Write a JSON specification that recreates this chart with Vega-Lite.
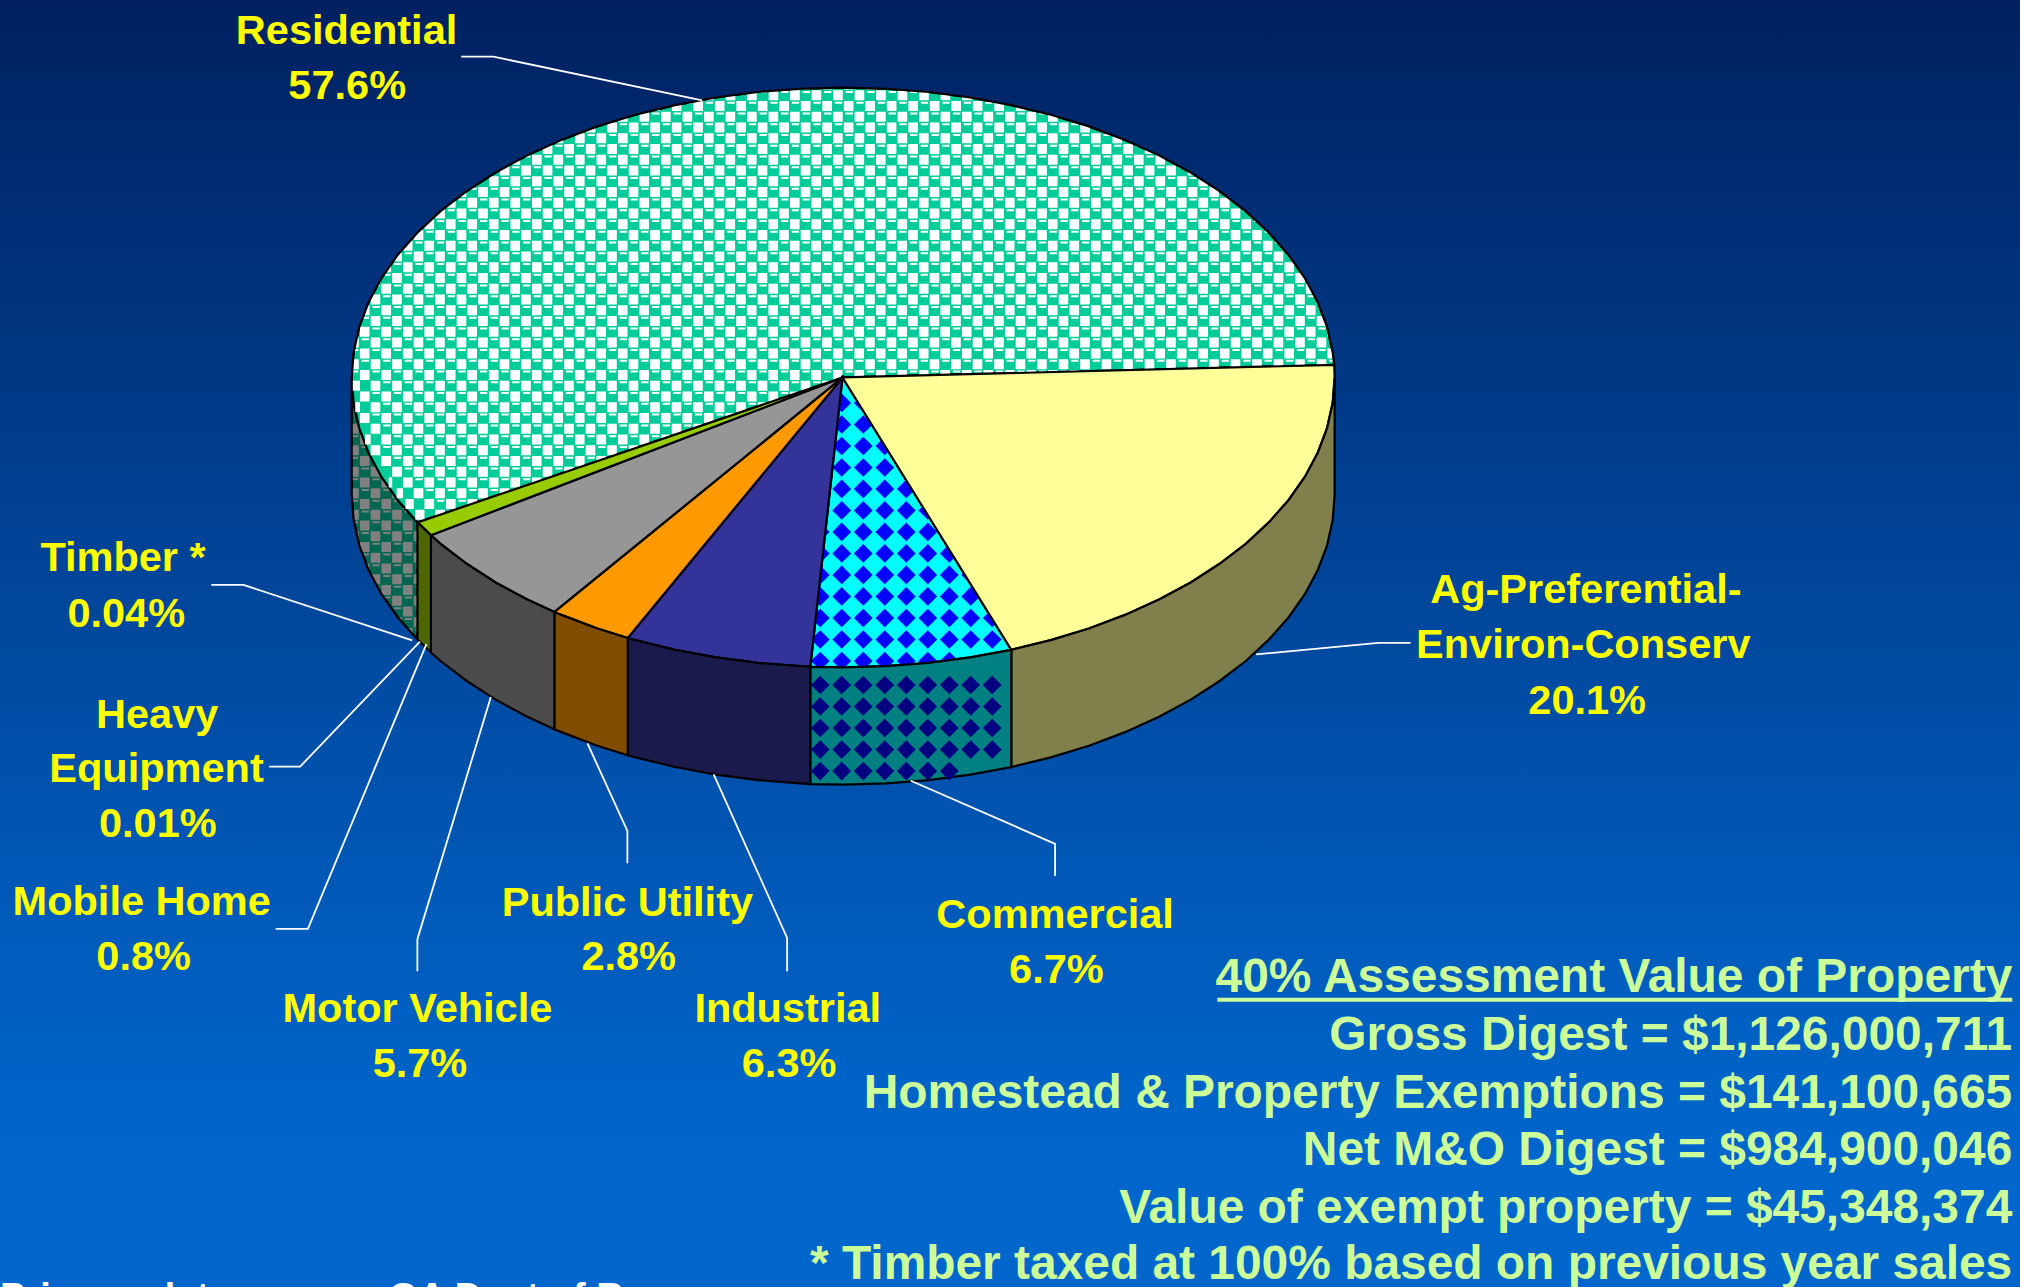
{"$schema":"https://vega.github.io/schema/vega-lite/v6.json","width":2020,"height":1287,"padding":0,"autosize":{"type":"none"},"background":"#0066cc","config":{"view":{"stroke":null}},
"datasets":{
"bg":[{"x":0,"x2":1568,"y":0,"y2":999}],
"polys":[
{"g":1,"seg":"ResSide","o":1,"x":324.1,"y":405.5},{"g":1,"seg":"ResSide","o":2,"x":308.7,"y":388.1},{"g":1,"seg":"ResSide","o":3,"x":296,"y":370},{"g":1,"seg":"ResSide","o":4,"x":286,"y":351.2},{"g":1,"seg":"ResSide","o":5,"x":278.8,"y":332.1},{"g":1,"seg":"ResSide","o":6,"x":274.5,"y":312.6},{"g":1,"seg":"ResSide","o":7,"x":273,"y":293},{"g":1,"seg":"ResSide","o":8,"x":273,"y":384},{"g":1,"seg":"ResSide","o":9,"x":274.5,"y":403.6},{"g":1,"seg":"ResSide","o":10,"x":278.8,"y":423.1},{"g":1,"seg":"ResSide","o":11,"x":286,"y":442.2},{"g":1,"seg":"ResSide","o":12,"x":296,"y":461},{"g":1,"seg":"ResSide","o":13,"x":308.7,"y":479.1},{"g":1,"seg":"ResSide","o":14,"x":324.1,"y":496.5},
{"g":2,"seg":"Residential","o":1,"x":654,"y":293},{"g":2,"seg":"Residential","o":2,"x":324.1,"y":405.5},{"g":2,"seg":"Residential","o":3,"x":308.7,"y":388.1},{"g":2,"seg":"Residential","o":4,"x":296,"y":370},{"g":2,"seg":"Residential","o":5,"x":286,"y":351.2},{"g":2,"seg":"Residential","o":6,"x":278.8,"y":332.1},{"g":2,"seg":"Residential","o":7,"x":274.5,"y":312.6},{"g":2,"seg":"Residential","o":8,"x":273,"y":293},{"g":2,"seg":"Residential","o":9,"x":274.5,"y":273.4},{"g":2,"seg":"Residential","o":10,"x":278.8,"y":253.9},{"g":2,"seg":"Residential","o":11,"x":286,"y":234.8},{"g":2,"seg":"Residential","o":12,"x":296,"y":216},{"g":2,"seg":"Residential","o":13,"x":308.7,"y":197.9},{"g":2,"seg":"Residential","o":14,"x":324.1,"y":180.5},{"g":2,"seg":"Residential","o":15,"x":342,"y":163.9},{"g":2,"seg":"Residential","o":16,"x":362.3,"y":148.4},{"g":2,"seg":"Residential","o":17,"x":384.7,"y":133.9},{"g":2,"seg":"Residential","o":18,"x":409.3,"y":120.6},{"g":2,"seg":"Residential","o":19,"x":435.7,"y":108.7},{"g":2,"seg":"Residential","o":20,"x":463.7,"y":98.1},{"g":2,"seg":"Residential","o":21,"x":493.3,"y":89.1},{"g":2,"seg":"Residential","o":22,"x":524,"y":81.6},{"g":2,"seg":"Residential","o":23,"x":555.8,"y":75.7},{"g":2,"seg":"Residential","o":24,"x":588.3,"y":71.4},{"g":2,"seg":"Residential","o":25,"x":621.2,"y":68.9},{"g":2,"seg":"Residential","o":26,"x":654.5,"y":68},{"g":2,"seg":"Residential","o":27,"x":687.8,"y":68.9},{"g":2,"seg":"Residential","o":28,"x":720.7,"y":71.4},{"g":2,"seg":"Residential","o":29,"x":753.2,"y":75.7},{"g":2,"seg":"Residential","o":30,"x":785,"y":81.6},{"g":2,"seg":"Residential","o":31,"x":815.7,"y":89.1},{"g":2,"seg":"Residential","o":32,"x":845.3,"y":98.1},{"g":2,"seg":"Residential","o":33,"x":873.3,"y":108.7},{"g":2,"seg":"Residential","o":34,"x":899.7,"y":120.6},{"g":2,"seg":"Residential","o":35,"x":924.3,"y":133.9},{"g":2,"seg":"Residential","o":36,"x":946.7,"y":148.4},{"g":2,"seg":"Residential","o":37,"x":967,"y":163.9},{"g":2,"seg":"Residential","o":38,"x":984.9,"y":180.5},{"g":2,"seg":"Residential","o":39,"x":1000.3,"y":197.9},{"g":2,"seg":"Residential","o":40,"x":1013,"y":216},{"g":2,"seg":"Residential","o":41,"x":1023,"y":234.8},{"g":2,"seg":"Residential","o":42,"x":1030.2,"y":253.9},{"g":2,"seg":"Residential","o":43,"x":1034.5,"y":273.4},{"g":2,"seg":"Residential","o":44,"x":1035.7,"y":283.2},
{"g":3,"seg":"Commercial","o":1,"x":654,"y":293},{"g":3,"seg":"Commercial","o":2,"x":785,"y":504.4},{"g":3,"seg":"Commercial","o":3,"x":753.2,"y":510.3},{"g":3,"seg":"Commercial","o":4,"x":720.7,"y":514.6},{"g":3,"seg":"Commercial","o":5,"x":687.8,"y":517.1},{"g":3,"seg":"Commercial","o":6,"x":654.5,"y":518},{"g":3,"seg":"Commercial","o":7,"x":629,"y":517.6},
{"g":4,"seg":"Ag","o":1,"x":654,"y":293},{"g":4,"seg":"Ag","o":2,"x":1035.7,"y":283.2},{"g":4,"seg":"Ag","o":3,"x":1036,"y":293},{"g":4,"seg":"Ag","o":4,"x":1034.5,"y":312.6},{"g":4,"seg":"Ag","o":5,"x":1030.2,"y":332.1},{"g":4,"seg":"Ag","o":6,"x":1023,"y":351.2},{"g":4,"seg":"Ag","o":7,"x":1013,"y":370},{"g":4,"seg":"Ag","o":8,"x":1000.3,"y":388.1},{"g":4,"seg":"Ag","o":9,"x":984.9,"y":405.5},{"g":4,"seg":"Ag","o":10,"x":967,"y":422.1},{"g":4,"seg":"Ag","o":11,"x":946.7,"y":437.6},{"g":4,"seg":"Ag","o":12,"x":924.3,"y":452.1},{"g":4,"seg":"Ag","o":13,"x":899.7,"y":465.4},{"g":4,"seg":"Ag","o":14,"x":873.3,"y":477.3},{"g":4,"seg":"Ag","o":15,"x":845.3,"y":487.9},{"g":4,"seg":"Ag","o":16,"x":815.7,"y":496.9},{"g":4,"seg":"Ag","o":17,"x":785,"y":504.4},
{"g":4,"seg":"Industrial","o":1,"x":654,"y":293},{"g":4,"seg":"Industrial","o":2,"x":629,"y":517.6},{"g":4,"seg":"Industrial","o":3,"x":621.2,"y":517.1},{"g":4,"seg":"Industrial","o":4,"x":588.3,"y":514.6},{"g":4,"seg":"Industrial","o":5,"x":555.8,"y":510.3},{"g":4,"seg":"Industrial","o":6,"x":524,"y":504.4},{"g":4,"seg":"Industrial","o":7,"x":493.3,"y":496.9},{"g":4,"seg":"Industrial","o":8,"x":487.3,"y":495.2},
{"g":4,"seg":"Utility","o":1,"x":654,"y":293},{"g":4,"seg":"Utility","o":2,"x":487.3,"y":495.2},{"g":4,"seg":"Utility","o":3,"x":463.7,"y":487.9},{"g":4,"seg":"Utility","o":4,"x":435.7,"y":477.3},{"g":4,"seg":"Utility","o":5,"x":430.3,"y":475},
{"g":4,"seg":"Motor","o":1,"x":654,"y":293},{"g":4,"seg":"Motor","o":2,"x":430.3,"y":475},{"g":4,"seg":"Motor","o":3,"x":409.3,"y":465.4},{"g":4,"seg":"Motor","o":4,"x":384.7,"y":452.1},{"g":4,"seg":"Motor","o":5,"x":362.3,"y":437.6},{"g":4,"seg":"Motor","o":6,"x":342,"y":422.1},{"g":4,"seg":"Motor","o":7,"x":334.5,"y":415.5},
{"g":4,"seg":"Mobile","o":1,"x":654,"y":293},{"g":4,"seg":"Mobile","o":2,"x":334.5,"y":415.5},{"g":4,"seg":"Mobile","o":3,"x":324.1,"y":405.5},
{"g":5,"seg":"AgSide","o":1,"x":785,"y":504.4},{"g":5,"seg":"AgSide","o":2,"x":815.7,"y":496.9},{"g":5,"seg":"AgSide","o":3,"x":845.3,"y":487.9},{"g":5,"seg":"AgSide","o":4,"x":873.3,"y":477.3},{"g":5,"seg":"AgSide","o":5,"x":899.7,"y":465.4},{"g":5,"seg":"AgSide","o":6,"x":924.3,"y":452.1},{"g":5,"seg":"AgSide","o":7,"x":946.7,"y":437.6},{"g":5,"seg":"AgSide","o":8,"x":967,"y":422.1},{"g":5,"seg":"AgSide","o":9,"x":984.9,"y":405.5},{"g":5,"seg":"AgSide","o":10,"x":1000.3,"y":388.1},{"g":5,"seg":"AgSide","o":11,"x":1013,"y":370},{"g":5,"seg":"AgSide","o":12,"x":1023,"y":351.2},{"g":5,"seg":"AgSide","o":13,"x":1030.2,"y":332.1},{"g":5,"seg":"AgSide","o":14,"x":1034.5,"y":312.6},{"g":5,"seg":"AgSide","o":15,"x":1036,"y":293},{"g":5,"seg":"AgSide","o":16,"x":1036,"y":384},{"g":5,"seg":"AgSide","o":17,"x":1034.5,"y":403.6},{"g":5,"seg":"AgSide","o":18,"x":1030.2,"y":423.1},{"g":5,"seg":"AgSide","o":19,"x":1023,"y":442.2},{"g":5,"seg":"AgSide","o":20,"x":1013,"y":461},{"g":5,"seg":"AgSide","o":21,"x":1000.3,"y":479.1},{"g":5,"seg":"AgSide","o":22,"x":984.9,"y":496.5},{"g":5,"seg":"AgSide","o":23,"x":967,"y":513.1},{"g":5,"seg":"AgSide","o":24,"x":946.7,"y":528.6},{"g":5,"seg":"AgSide","o":25,"x":924.3,"y":543.1},{"g":5,"seg":"AgSide","o":26,"x":899.7,"y":556.4},{"g":5,"seg":"AgSide","o":27,"x":873.3,"y":568.3},{"g":5,"seg":"AgSide","o":28,"x":845.3,"y":578.9},{"g":5,"seg":"AgSide","o":29,"x":815.7,"y":587.9},{"g":5,"seg":"AgSide","o":30,"x":785,"y":595.4},
{"g":5,"seg":"CommercialSide","o":1,"x":629,"y":517.6},{"g":5,"seg":"CommercialSide","o":2,"x":654.5,"y":518},{"g":5,"seg":"CommercialSide","o":3,"x":687.8,"y":517.1},{"g":5,"seg":"CommercialSide","o":4,"x":720.7,"y":514.6},{"g":5,"seg":"CommercialSide","o":5,"x":753.2,"y":510.3},{"g":5,"seg":"CommercialSide","o":6,"x":785,"y":504.4},{"g":5,"seg":"CommercialSide","o":7,"x":785,"y":595.4},{"g":5,"seg":"CommercialSide","o":8,"x":753.2,"y":601.3},{"g":5,"seg":"CommercialSide","o":9,"x":720.7,"y":605.6},{"g":5,"seg":"CommercialSide","o":10,"x":687.8,"y":608.1},{"g":5,"seg":"CommercialSide","o":11,"x":654.5,"y":609},{"g":5,"seg":"CommercialSide","o":12,"x":629,"y":608.6},
{"g":5,"seg":"IndustrialSide","o":1,"x":487.3,"y":495.2},{"g":5,"seg":"IndustrialSide","o":2,"x":493.3,"y":496.9},{"g":5,"seg":"IndustrialSide","o":3,"x":524,"y":504.4},{"g":5,"seg":"IndustrialSide","o":4,"x":555.8,"y":510.3},{"g":5,"seg":"IndustrialSide","o":5,"x":588.3,"y":514.6},{"g":5,"seg":"IndustrialSide","o":6,"x":621.2,"y":517.1},{"g":5,"seg":"IndustrialSide","o":7,"x":629,"y":517.6},{"g":5,"seg":"IndustrialSide","o":8,"x":629,"y":608.6},{"g":5,"seg":"IndustrialSide","o":9,"x":621.2,"y":608.1},{"g":5,"seg":"IndustrialSide","o":10,"x":588.3,"y":605.6},{"g":5,"seg":"IndustrialSide","o":11,"x":555.8,"y":601.3},{"g":5,"seg":"IndustrialSide","o":12,"x":524,"y":595.4},{"g":5,"seg":"IndustrialSide","o":13,"x":493.3,"y":587.9},{"g":5,"seg":"IndustrialSide","o":14,"x":487.3,"y":586.2},
{"g":5,"seg":"UtilitySide","o":1,"x":430.3,"y":475},{"g":5,"seg":"UtilitySide","o":2,"x":435.7,"y":477.3},{"g":5,"seg":"UtilitySide","o":3,"x":463.7,"y":487.9},{"g":5,"seg":"UtilitySide","o":4,"x":487.3,"y":495.2},{"g":5,"seg":"UtilitySide","o":5,"x":487.3,"y":586.2},{"g":5,"seg":"UtilitySide","o":6,"x":463.7,"y":578.9},{"g":5,"seg":"UtilitySide","o":7,"x":435.7,"y":568.3},{"g":5,"seg":"UtilitySide","o":8,"x":430.3,"y":566},
{"g":5,"seg":"MotorSide","o":1,"x":334.5,"y":415.5},{"g":5,"seg":"MotorSide","o":2,"x":342,"y":422.1},{"g":5,"seg":"MotorSide","o":3,"x":362.3,"y":437.6},{"g":5,"seg":"MotorSide","o":4,"x":384.7,"y":452.1},{"g":5,"seg":"MotorSide","o":5,"x":409.3,"y":465.4},{"g":5,"seg":"MotorSide","o":6,"x":430.3,"y":475},{"g":5,"seg":"MotorSide","o":7,"x":430.3,"y":566},{"g":5,"seg":"MotorSide","o":8,"x":409.3,"y":556.4},{"g":5,"seg":"MotorSide","o":9,"x":384.7,"y":543.1},{"g":5,"seg":"MotorSide","o":10,"x":362.3,"y":528.6},{"g":5,"seg":"MotorSide","o":11,"x":342,"y":513.1},{"g":5,"seg":"MotorSide","o":12,"x":334.5,"y":506.5},
{"g":5,"seg":"MobileSide","o":1,"x":324.1,"y":405.5},{"g":5,"seg":"MobileSide","o":2,"x":334.5,"y":415.5},{"g":5,"seg":"MobileSide","o":3,"x":334.5,"y":506.5},{"g":5,"seg":"MobileSide","o":4,"x":324.1,"y":496.5}
],
"mask":[{"o":1,"x":0,"y":0},{"o":2,"x":0,"y":999},{"o":3,"x":1568,"y":999},{"o":4,"x":1568,"y":0},{"o":5,"x":654.5,"y":0},{"o":6,"x":654.5,"y":68},{"o":7,"x":687.8,"y":68.9},{"o":8,"x":720.7,"y":71.4},{"o":9,"x":753.2,"y":75.7},{"o":10,"x":785,"y":81.6},{"o":11,"x":815.7,"y":89.1},{"o":12,"x":845.3,"y":98.1},{"o":13,"x":873.3,"y":108.7},{"o":14,"x":899.7,"y":120.6},{"o":15,"x":924.3,"y":133.9},{"o":16,"x":946.7,"y":148.4},{"o":17,"x":967,"y":163.9},{"o":18,"x":984.9,"y":180.5},{"o":19,"x":1000.3,"y":197.9},{"o":20,"x":1013,"y":216},{"o":21,"x":1023,"y":234.8},{"o":22,"x":1030.2,"y":253.9},{"o":23,"x":1034.5,"y":273.4},{"o":24,"x":1036,"y":293},{"o":25,"x":1036,"y":384},{"o":26,"x":1034.5,"y":403.6},{"o":27,"x":1030.2,"y":423.1},{"o":28,"x":1023,"y":442.2},{"o":29,"x":1013,"y":461},{"o":30,"x":1000.3,"y":479.1},{"o":31,"x":984.9,"y":496.5},{"o":32,"x":967,"y":513.1},{"o":33,"x":946.7,"y":528.6},{"o":34,"x":924.3,"y":543.1},{"o":35,"x":899.7,"y":556.4},{"o":36,"x":873.3,"y":568.3},{"o":37,"x":845.3,"y":578.9},{"o":38,"x":815.7,"y":587.9},{"o":39,"x":785,"y":595.4},{"o":40,"x":753.2,"y":601.3},{"o":41,"x":720.7,"y":605.6},{"o":42,"x":687.8,"y":608.1},{"o":43,"x":654.5,"y":609},{"o":44,"x":621.2,"y":608.1},{"o":45,"x":588.3,"y":605.6},{"o":46,"x":555.8,"y":601.3},{"o":47,"x":524,"y":595.4},{"o":48,"x":493.3,"y":587.9},{"o":49,"x":463.7,"y":578.9},{"o":50,"x":435.7,"y":568.3},{"o":51,"x":409.3,"y":556.4},{"o":52,"x":384.7,"y":543.1},{"o":53,"x":362.3,"y":528.6},{"o":54,"x":342,"y":513.1},{"o":55,"x":324.1,"y":496.5},{"o":56,"x":308.7,"y":479.1},{"o":57,"x":296,"y":461},{"o":58,"x":286,"y":442.2},{"o":59,"x":278.8,"y":423.1},{"o":60,"x":274.5,"y":403.6},{"o":61,"x":273,"y":384},{"o":62,"x":273,"y":293},{"o":63,"x":274.5,"y":273.4},{"o":64,"x":278.8,"y":253.9},{"o":65,"x":286,"y":234.8},{"o":66,"x":296,"y":216},{"o":67,"x":308.7,"y":197.9},{"o":68,"x":324.1,"y":180.5},{"o":69,"x":342,"y":163.9},{"o":70,"x":362.3,"y":148.4},{"o":71,"x":384.7,"y":133.9},{"o":72,"x":409.3,"y":120.6},{"o":73,"x":435.7,"y":108.7},{"o":74,"x":463.7,"y":98.1},{"o":75,"x":493.3,"y":89.1},{"o":76,"x":524,"y":81.6},{"o":77,"x":555.8,"y":75.7},{"o":78,"x":588.3,"y":71.4},{"o":79,"x":621.2,"y":68.9},{"o":80,"x":654.5,"y":68},{"o":81,"x":654.5,"y":0}],
"outline":[{"o":1,"x":324.1,"y":496.5},{"o":2,"x":308.7,"y":479.1},{"o":3,"x":296,"y":461},{"o":4,"x":286,"y":442.2},{"o":5,"x":278.8,"y":423.1},{"o":6,"x":274.5,"y":403.6},{"o":7,"x":273,"y":384},{"o":8,"x":273,"y":293},{"o":9,"x":274.5,"y":273.4},{"o":10,"x":278.8,"y":253.9},{"o":11,"x":286,"y":234.8},{"o":12,"x":296,"y":216},{"o":13,"x":308.7,"y":197.9},{"o":14,"x":324.1,"y":180.5},{"o":15,"x":342,"y":163.9},{"o":16,"x":362.3,"y":148.4},{"o":17,"x":384.7,"y":133.9},{"o":18,"x":409.3,"y":120.6},{"o":19,"x":435.7,"y":108.7},{"o":20,"x":463.7,"y":98.1},{"o":21,"x":493.3,"y":89.1},{"o":22,"x":524,"y":81.6},{"o":23,"x":555.8,"y":75.7},{"o":24,"x":588.3,"y":71.4},{"o":25,"x":621.2,"y":68.9},{"o":26,"x":654.5,"y":68},{"o":27,"x":687.8,"y":68.9},{"o":28,"x":720.7,"y":71.4},{"o":29,"x":753.2,"y":75.7},{"o":30,"x":785,"y":81.6},{"o":31,"x":815.7,"y":89.1},{"o":32,"x":845.3,"y":98.1},{"o":33,"x":873.3,"y":108.7},{"o":34,"x":899.7,"y":120.6},{"o":35,"x":924.3,"y":133.9},{"o":36,"x":946.7,"y":148.4},{"o":37,"x":967,"y":163.9},{"o":38,"x":984.9,"y":180.5},{"o":39,"x":1000.3,"y":197.9},{"o":40,"x":1013,"y":216},{"o":41,"x":1023,"y":234.8},{"o":42,"x":1030.2,"y":253.9},{"o":43,"x":1034.5,"y":273.4},{"o":44,"x":1035.7,"y":283.2}],
"whiteRows":[{"x":605.05,"x2":701.7,"y":65.55},{"x":529.9,"x2":767.4,"y":73.9},{"x":488.15,"x2":805.7,"y":82.25},{"x":463.1,"x2":835,"y":90.6},{"x":438.05,"x2":859.2,"y":98.95},{"x":413,"x2":879.9,"y":107.3},{"x":404.65,"x2":898.1,"y":115.65},{"x":379.6,"x2":914.2,"y":124},{"x":371.25,"x2":928.7,"y":132.35},{"x":362.9,"x2":941.7,"y":140.7},{"x":354.55,"x2":953.5,"y":149.05},{"x":329.5,"x2":964.2,"y":157.4},{"x":321.15,"x2":973.9,"y":165.75},{"x":312.8,"x2":982.7,"y":174.1},{"x":304.45,"x2":990.7,"y":182.45},{"x":296.1,"x2":997.9,"y":190.8},{"x":304.45,"x2":1004.4,"y":199.15},{"x":296.1,"x2":1010.2,"y":207.5},{"x":287.75,"x2":1015.4,"y":215.85},{"x":279.4,"x2":1019.9,"y":224.2},{"x":271.05,"x2":1023.9,"y":232.55},{"x":279.4,"x2":1027.2,"y":240.9},{"x":271.05,"x2":1030.1,"y":249.25},{"x":262.7,"x2":1032.3,"y":257.6},{"x":271.05,"x2":1034,"y":265.95},{"x":262.7,"x2":1035,"y":274.3},{"x":271.05,"x2":1037,"y":282.65},{"x":262.7,"x2":1037,"y":291},{"x":287.75,"x2":650,"y":299.35},{"x":273.4,"x2":279.4,"y":299.35},{"x":279.4,"x2":625,"y":307.7},{"x":287.75,"x2":600,"y":316.05},{"x":275.8,"x2":279.4,"y":316.05},{"x":279.4,"x2":575,"y":324.4},{"x":287.75,"x2":550,"y":332.75},{"x":296.1,"x2":525,"y":341.1},{"x":283.4,"x2":287.75,"y":341.1},{"x":287.75,"x2":500,"y":349.45},{"x":296.1,"x2":476,"y":357.8},{"x":304.45,"x2":452,"y":366.15},{"x":312.8,"x2":428,"y":374.5},{"x":301.7,"x2":304.45,"y":374.5},{"x":321.15,"x2":403,"y":382.85},{"x":307.9,"x2":312.8,"y":382.85},{"x":329.5,"x2":379,"y":391.2},{"x":314.8,"x2":321.15,"y":391.2},{"x":337.85,"x2":354,"y":399.55},{"x":322.4,"x2":329.5,"y":399.55},{"x":330.8,"x2":335,"y":407.9}],
"grayRows":[{"x":271.05,"x2":324,"y":332.75},{"x":262.7,"x2":324,"y":341.1},{"x":271.05,"x2":324,"y":349.45},{"x":262.7,"x2":324,"y":357.8},{"x":271.05,"x2":324,"y":366.15},{"x":262.7,"x2":324,"y":374.5},{"x":271.05,"x2":324,"y":382.85},{"x":262.7,"x2":324,"y":391.2},{"x":271.05,"x2":324,"y":399.55},{"x":262.7,"x2":324,"y":407.9},{"x":271.05,"x2":324,"y":416.25},{"x":262.7,"x2":324,"y":424.6},{"x":271.05,"x2":324,"y":432.95},{"x":262.7,"x2":324,"y":441.3},{"x":271.05,"x2":324,"y":449.65},{"x":262.7,"x2":324,"y":458},{"x":271.05,"x2":324,"y":466.35},{"x":262.7,"x2":324,"y":474.7},{"x":271.05,"x2":324,"y":483.05},{"x":262.7,"x2":324,"y":491.4}],
"cyanDots":[{"x":653.4,"y":312.8},{"x":670.1,"y":312.8},{"x":653.4,"y":329.5},{"x":670.1,"y":329.5},{"x":653.4,"y":346.2},{"x":670.1,"y":346.2},{"x":686.8,"y":346.2},{"x":653.4,"y":362.9},{"x":670.1,"y":362.9},{"x":686.8,"y":362.9},{"x":703.5,"y":362.9},{"x":636.7,"y":379.5},{"x":653.4,"y":379.5},{"x":670.1,"y":379.5},{"x":686.8,"y":379.5},{"x":703.5,"y":379.5},{"x":636.7,"y":396.2},{"x":653.4,"y":396.2},{"x":670.1,"y":396.2},{"x":686.8,"y":396.2},{"x":703.5,"y":396.2},{"x":720.2,"y":396.2},{"x":636.7,"y":412.9},{"x":653.4,"y":412.9},{"x":670.1,"y":412.9},{"x":686.8,"y":412.9},{"x":703.5,"y":412.9},{"x":720.2,"y":412.9},{"x":636.7,"y":429.6},{"x":653.4,"y":429.6},{"x":670.1,"y":429.6},{"x":686.8,"y":429.6},{"x":703.5,"y":429.6},{"x":720.2,"y":429.6},{"x":736.9,"y":429.6},{"x":636.7,"y":446.3},{"x":653.4,"y":446.3},{"x":670.1,"y":446.3},{"x":686.8,"y":446.3},{"x":703.5,"y":446.3},{"x":720.2,"y":446.3},{"x":736.9,"y":446.3},{"x":753.5,"y":446.3},{"x":636.7,"y":463},{"x":653.4,"y":463},{"x":670.1,"y":463},{"x":686.8,"y":463},{"x":703.5,"y":463},{"x":720.2,"y":463},{"x":736.9,"y":463},{"x":753.5,"y":463},{"x":636.7,"y":479.7},{"x":653.4,"y":479.7},{"x":670.1,"y":479.7},{"x":686.8,"y":479.7},{"x":703.5,"y":479.7},{"x":720.2,"y":479.7},{"x":736.9,"y":479.7},{"x":753.5,"y":479.7},{"x":770.2,"y":479.7},{"x":636.7,"y":496.4},{"x":653.4,"y":496.4},{"x":670.1,"y":496.4},{"x":686.8,"y":496.4},{"x":703.5,"y":496.4},{"x":720.2,"y":496.4},{"x":736.9,"y":496.4},{"x":753.5,"y":496.4},{"x":770.2,"y":496.4},{"x":636.7,"y":513.1},{"x":653.4,"y":513.1},{"x":670.1,"y":513.1},{"x":686.8,"y":513.1},{"x":703.5,"y":513.1},{"x":720.2,"y":513.1},{"x":736.9,"y":513.1}],
"navyDots":[{"x":636.7,"y":531.7},{"x":653.4,"y":531.7},{"x":670.1,"y":531.7},{"x":686.8,"y":531.7},{"x":703.5,"y":531.7},{"x":720.2,"y":531.7},{"x":736.9,"y":531.7},{"x":753.5,"y":531.7},{"x":770.2,"y":531.7},{"x":636.7,"y":548.4},{"x":653.4,"y":548.4},{"x":670.1,"y":548.4},{"x":686.8,"y":548.4},{"x":703.5,"y":548.4},{"x":720.2,"y":548.4},{"x":736.9,"y":548.4},{"x":753.5,"y":548.4},{"x":770.2,"y":548.4},{"x":636.7,"y":565.1},{"x":653.4,"y":565.1},{"x":670.1,"y":565.1},{"x":686.8,"y":565.1},{"x":703.5,"y":565.1},{"x":720.2,"y":565.1},{"x":736.9,"y":565.1},{"x":753.5,"y":565.1},{"x":770.2,"y":565.1},{"x":636.7,"y":581.8},{"x":653.4,"y":581.8},{"x":670.1,"y":581.8},{"x":686.8,"y":581.8},{"x":703.5,"y":581.8},{"x":720.2,"y":581.8},{"x":736.9,"y":581.8},{"x":753.5,"y":581.8},{"x":770.2,"y":581.8},{"x":636.7,"y":598.5},{"x":653.4,"y":598.5},{"x":670.1,"y":598.5},{"x":686.8,"y":598.5},{"x":703.5,"y":598.5},{"x":720.2,"y":598.5},{"x":736.9,"y":598.5}],
"leaders":[
{"k":"Residential","o":1,"x":358,"y":44},{"k":"Residential","o":2,"x":383,"y":44},{"k":"Residential","o":3,"x":545,"y":78},
{"k":"Ag","o":1,"x":975,"y":508},{"k":"Ag","o":2,"x":1070,"y":499},{"k":"Ag","o":3,"x":1095,"y":499},
{"k":"Commercial","o":1,"x":707,"y":606},{"k":"Commercial","o":2,"x":819,"y":655},{"k":"Commercial","o":3,"x":819,"y":680},
{"k":"Industrial","o":1,"x":554,"y":601},{"k":"Industrial","o":2,"x":611,"y":728},{"k":"Industrial","o":3,"x":611,"y":754},
{"k":"Utility","o":1,"x":456,"y":577},{"k":"Utility","o":2,"x":487,"y":645},{"k":"Utility","o":3,"x":487,"y":670},
{"k":"Motor","o":1,"x":381,"y":541},{"k":"Motor","o":2,"x":324,"y":729},{"k":"Motor","o":3,"x":324,"y":754},
{"k":"Mobile","o":1,"x":331,"y":500},{"k":"Mobile","o":2,"x":239,"y":721},{"k":"Mobile","o":3,"x":214,"y":721},
{"k":"Heavy","o":1,"x":326,"y":498},{"k":"Heavy","o":2,"x":233,"y":595},{"k":"Heavy","o":3,"x":209,"y":595},
{"k":"Timber","o":1,"x":320,"y":497},{"k":"Timber","o":2,"x":189,"y":454},{"k":"Timber","o":3,"x":164,"y":454}],
"labels":[
{"t":"Residential","x":269,"y":34},{"t":"57.6%","x":269.5,"y":77},
{"t":"Ag-Preferential-","x":1231,"y":468},{"t":"Environ-Conserv","x":1229,"y":511},{"t":"20.1%","x":1232,"y":554},
{"t":"Timber *","x":95.5,"y":443},{"t":"0.04%","x":98,"y":487},
{"t":"Heavy","x":122,"y":565},{"t":"Equipment","x":121.5,"y":607},{"t":"0.01%","x":122.5,"y":650},
{"t":"Mobile Home","x":110,"y":710},{"t":"0.8%","x":111.5,"y":753},
{"t":"Public Utility","x":487,"y":711},{"t":"2.8%","x":488,"y":753},
{"t":"Motor Vehicle","x":324,"y":793},{"t":"5.7%","x":326,"y":836},
{"t":"Industrial","x":611.5,"y":793},{"t":"6.3%","x":612.5,"y":836},
{"t":"Commercial","x":819,"y":720},{"t":"6.7%","x":820,"y":763}],
"notes":[
{"t":"40% Assessment Value of Property","x":1562,"y":770},
{"t":"Gross Digest = $1,126,000,711","x":1562,"y":815},
{"t":"Homestead & Property Exemptions = $141,100,665","x":1562,"y":860},
{"t":"Net M&O Digest = $984,900,046","x":1562,"y":904},
{"t":"Value of exempt property = $45,348,374","x":1562,"y":949},
{"t":"* Timber taxed at 100% based on previous year sales","x":1562,"y":993}],
"underline":[{"x":945,"x2":1562,"y":776}],
"source":[{"t":"Primary data source: GA Dept of Revenue","x":0,"y":1017}]
},
"layer":[
{"data":{"name":"bg"},"mark":{"type":"rect","color":{"gradient":"linear","x1":0,"y1":0,"x2":0,"y2":1,"stops":[{"offset":0,"color":"#002060"},{"offset":0.72,"color":"#005bbb"},{"offset":0.9,"color":"#0066cc"},{"offset":1,"color":"#0066cc"}]}},"encoding":{"x":{"field":"x","type":"quantitative","scale":{"domain":[0,1568],"nice":false,"zero":false},"axis":null},"x2":{"field":"x2"},"y":{"field":"y","type":"quantitative","scale":{"domain":[999,0],"nice":false,"zero":false},"axis":null},"y2":{"field":"y2"}}},
{"data":{"name":"polys"},"transform":[{"filter":"datum.g==1"}],"mark":{"type":"line","interpolate":"linear-closed","color":"#000000","strokeWidth":2.2},"encoding":{"x":{"field":"x","type":"quantitative"},"y":{"field":"y","type":"quantitative"},"order":{"field":"o"},"fill":{"field":"seg","type":"nominal","legend":null,"scale":{"domain":["ResSide","Residential","Commercial","Ag","Industrial","Utility","Motor","Mobile","AgSide","CommercialSide","IndustrialSide","UtilitySide","MotorSide","MobileSide"],"range":["#006650","#00cc99","#00ffff","#ffff99","#333399","#ff9900","#969696","#99cc00","#80804c","#008080","#1a1a4d","#804c00","#4b4b4b","#4d6600"]}}}},
{"data":{"name":"grayRows"},"mark":{"type":"rule","color":"#808080","strokeWidth":10,"strokeDash":[9.6,11.9],"strokeCap":"butt"},"encoding":{"x":{"field":"x","type":"quantitative"},"x2":{"field":"x2"},"y":{"field":"y","type":"quantitative"}}},
{"data":{"name":"grayRows"},"mark":{"type":"rule","color":"#808080","strokeWidth":2,"strokeDash":[7.3,14.2],"strokeDashOffset":9,"yOffset":-3.3,"strokeCap":"butt"},"encoding":{"x":{"field":"x","type":"quantitative"},"x2":{"field":"x2"},"y":{"field":"y","type":"quantitative"}}},
{"data":{"name":"polys"},"transform":[{"filter":"datum.g==2"}],"mark":{"type":"line","interpolate":"linear-closed","color":"#000000","strokeWidth":2.2},"encoding":{"x":{"field":"x","type":"quantitative"},"y":{"field":"y","type":"quantitative"},"order":{"field":"o"},"fill":{"field":"seg","type":"nominal","legend":null}}},
{"data":{"name":"whiteRows"},"mark":{"type":"rule","color":"#ffffff","strokeWidth":10,"strokeDash":[9.6,11.9],"strokeCap":"butt"},"encoding":{"x":{"field":"x","type":"quantitative"},"x2":{"field":"x2"},"y":{"field":"y","type":"quantitative"}}},
{"data":{"name":"whiteRows"},"mark":{"type":"rule","color":"#ffffff","strokeWidth":2,"strokeDash":[7.3,14.2],"strokeDashOffset":9,"yOffset":-3.3,"strokeCap":"butt"},"encoding":{"x":{"field":"x","type":"quantitative"},"x2":{"field":"x2"},"y":{"field":"y","type":"quantitative"}}},
{"data":{"name":"mask"},"mark":{"type":"line","interpolate":"linear-closed","stroke":"transparent","strokeWidth":0,"fill":{"gradient":"linear","x1":0,"y1":0,"x2":0,"y2":1,"stops":[{"offset":0,"color":"#002060"},{"offset":0.72,"color":"#005bbb"},{"offset":0.9,"color":"#0066cc"},{"offset":1,"color":"#0066cc"}]}},"encoding":{"x":{"field":"x","type":"quantitative"},"y":{"field":"y","type":"quantitative"},"order":{"field":"o"}}},
{"data":{"name":"outline"},"mark":{"type":"line","color":"#000000","strokeWidth":2.2},"encoding":{"x":{"field":"x","type":"quantitative"},"y":{"field":"y","type":"quantitative"},"order":{"field":"o"}}},
{"data":{"name":"polys"},"transform":[{"filter":"datum.g==3"}],"mark":{"type":"line","interpolate":"linear-closed","color":"#000000","strokeWidth":2.2},"encoding":{"x":{"field":"x","type":"quantitative"},"y":{"field":"y","type":"quantitative"},"order":{"field":"o"},"fill":{"field":"seg","type":"nominal","legend":null}}},
{"data":{"name":"cyanDots"},"mark":{"type":"point","shape":"diamond","filled":true,"size":350,"color":"#0000ff","opacity":1,"strokeWidth":0},"encoding":{"x":{"field":"x","type":"quantitative"},"y":{"field":"y","type":"quantitative"}}},
{"data":{"name":"polys"},"transform":[{"filter":"datum.g==4"}],"mark":{"type":"line","interpolate":"linear-closed","color":"#000000","strokeWidth":2.2},"encoding":{"x":{"field":"x","type":"quantitative"},"y":{"field":"y","type":"quantitative"},"order":{"field":"o"},"fill":{"field":"seg","type":"nominal","legend":null}}},
{"data":{"name":"polys"},"transform":[{"filter":"datum.g==5"}],"mark":{"type":"line","interpolate":"linear-closed","color":"#000000","strokeWidth":2.2},"encoding":{"x":{"field":"x","type":"quantitative"},"y":{"field":"y","type":"quantitative"},"order":{"field":"o"},"fill":{"field":"seg","type":"nominal","legend":null}}},
{"data":{"name":"navyDots"},"mark":{"type":"point","shape":"diamond","filled":true,"size":350,"color":"#000080","opacity":1,"strokeWidth":0},"encoding":{"x":{"field":"x","type":"quantitative"},"y":{"field":"y","type":"quantitative"}}},
{"data":{"name":"leaders"},"mark":{"type":"line","color":"#ffffff","strokeWidth":1.8},"encoding":{"x":{"field":"x","type":"quantitative"},"y":{"field":"y","type":"quantitative"},"detail":{"field":"k"},"order":{"field":"o"}}},
{"data":{"name":"labels"},"mark":{"type":"text","font":"Liberation Sans","fontWeight":"bold","fontSize":41.5,"color":"#ffff00","align":"center","baseline":"alphabetic"},"encoding":{"x":{"field":"x","type":"quantitative"},"y":{"field":"y","type":"quantitative"},"text":{"field":"t"}}},
{"data":{"name":"notes"},"mark":{"type":"text","font":"Liberation Sans","fontWeight":"bold","fontSize":47.9,"color":"#ccff99","align":"right","baseline":"alphabetic"},"encoding":{"x":{"field":"x","type":"quantitative"},"y":{"field":"y","type":"quantitative"},"text":{"field":"t"}}},
{"data":{"name":"underline"},"mark":{"type":"rule","color":"#ccff99","strokeWidth":4},"encoding":{"x":{"field":"x","type":"quantitative"},"x2":{"field":"x2"},"y":{"field":"y","type":"quantitative"}}},
{"data":{"name":"source"},"mark":{"type":"text","font":"Liberation Sans","fontWeight":"bold","fontSize":38,"color":"#ffffff","align":"left","baseline":"alphabetic","clip":true},"encoding":{"x":{"field":"x","type":"quantitative"},"y":{"field":"y","type":"quantitative"},"text":{"field":"t"}}}
],
"resolve":{"scale":{"x":"shared","y":"shared","fill":"shared"}}}
